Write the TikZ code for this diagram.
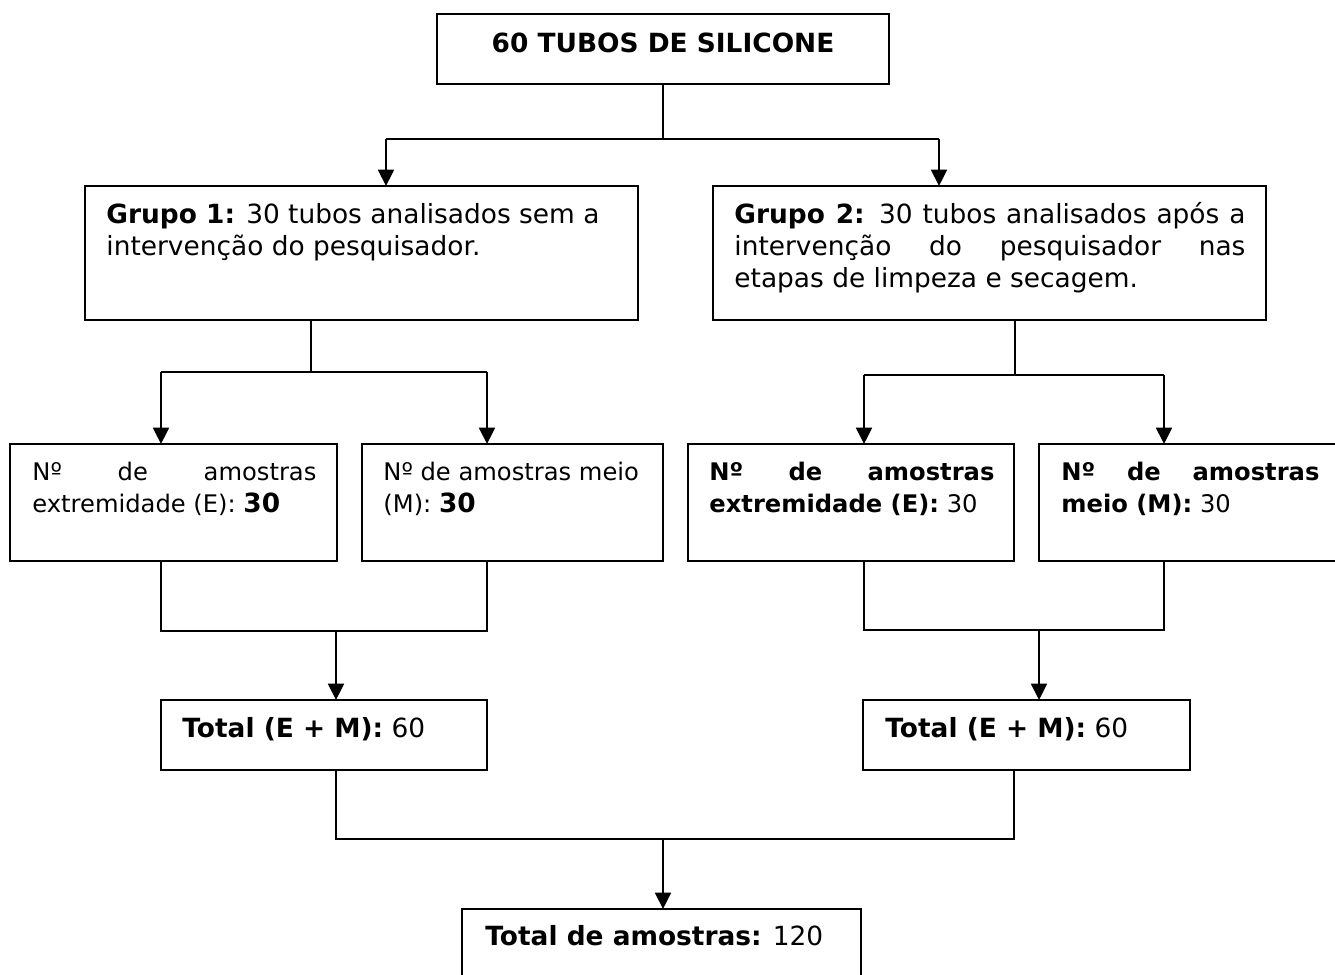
\documentclass[tikz,border=0pt]{standalone}
\usepackage{fontspec}
\setmainfont{DejaVu Sans}
\usetikzlibrary{arrows.meta}
\newdimen\pxu \pxu=0.4545pt
\newcommand{\pw}[1]{#1*0.4545pt}
\newcommand{\jl}[2]{\makebox[#1\pxu][s]{#2}}
\newcommand{\fbig}{\fontsize{12}{14.5}\selectfont}
\newcommand{\fsml}{\fontsize{11}{14.5}\selectfont}
\begin{document}
\begin{tikzpicture}[x=0.4545pt,y=-0.4545pt,
  box/.style={draw, line width=1pt, anchor=north west, inner sep=0pt, outer sep=0pt},
  txt/.style={anchor=base west, inner sep=0pt, font=\fbig},
  txts/.style={anchor=base west, inner sep=0pt, font=\fsml},
  conn/.style={line width=0.85pt},
  arr/.style={line width=0.85pt, -{Triangle[width=7.2pt,length=7.4pt]}}]
\useasboundingbox (0,0) rectangle (1335,974);
\fill[white] (0,0) rectangle (1335,974);
\begin{scope}
\clip (0,0) rectangle (1335,974);
% boxes
\node[box, minimum width=\pw{452}, minimum height=\pw{70}] (top) at (437,14) {};
\node[box, minimum width=\pw{553}, minimum height=\pw{134}] (g1) at (85,186) {};
\node[box, minimum width=\pw{553}, minimum height=\pw{134}] (g2) at (713,186) {};
\node[box, minimum width=\pw{327}, minimum height=\pw{117}] (ba) at (10,444) {};
\node[box, minimum width=\pw{301}, minimum height=\pw{117}] (bb) at (362,444) {};
\node[box, minimum width=\pw{326}, minimum height=\pw{117}] (bc) at (688,444) {};
\node[box, minimum width=\pw{301}, minimum height=\pw{117}] (bd) at (1039,444) {};
\node[box, minimum width=\pw{326}, minimum height=\pw{70}] (t1) at (161,700) {};
\node[box, minimum width=\pw{327}, minimum height=\pw{70}] (t2) at (863,700) {};
\node[box, minimum width=\pw{399}, minimum height=\pw{110}] (bot) at (462,909) {};
\end{scope}
% texts
\node[txt, anchor=base] (topt) at (663,52) {\textbf{60 TUBOS DE SILICONE}};
\node[txt] (g1a) at (106,223) {\textbf{Grupo 1:} 30 tubos analisados sem a};
\node[txt] (g1b) at (106,255) {intervenção do pesquisador.};
\node[txt] (g2a) at (734,223) {\jl{511}{\textbf{Grupo 2:} 30 tubos analisados após a}};
\node[txt] (g2b) at (734,255) {\jl{511}{intervenção do pesquisador nas}};
\node[txt] (g2c) at (734,287) {etapas de limpeza e secagem.};
\node[txts] (baa) at (32,480) {\jl{284}{Nº de amostras}};
\node[txts] (bab) at (32,512) {extremidade (E): {\fbig\textbf{30}}};
\node[txts] (bba) at (383,480) {Nº de amostras meio};
\node[txts] (bbb) at (383,512) {(M): {\fbig\textbf{30}}};
\node[txts] (bca) at (709,480) {\jl{285}{\textbf{Nº de amostras}}};
\node[txts] (bcb) at (709,512) {\textbf{extremidade (E):} 30};
\node[txts] (bda) at (1061,480) {\jl{258}{\textbf{Nº de amostras}}};
\node[txts] (bdb) at (1061,512) {\textbf{meio (M):} 30};
\node[txt] (t1t) at (182,737) {\textbf{Total (E + M):} 60};
\node[txt] (t2t) at (885,737) {\textbf{Total (E + M):} 60};
\node[txt] (bott) at (485,945) {\textbf{Total de amostras:} 120};
% junction coordinates
\coordinate (j0) at (663,139);
\coordinate (j0l) at (386,139);
\coordinate (j0r) at (939,139);
\coordinate (j1) at (311,372);
\coordinate (j1l) at (161,372);
\coordinate (j1r) at (487,372);
\coordinate (j2) at (1015,375);
\coordinate (j2l) at (864,375);
\coordinate (j2r) at (1164,375);
\coordinate (j3l) at (161,631);
\coordinate (j3r) at (487,631);
\coordinate (j3m) at (336,631);
\coordinate (j4l) at (864,630);
\coordinate (j4r) at (1164,630);
\coordinate (j4m) at (1039,630);
\coordinate (j5l) at (336,839);
\coordinate (j5r) at (1014,839);
\coordinate (j5m) at (663,839);
% connectors
\draw[conn] (top.south) -- (j0);
\draw[conn] (j0l) -- (j0r);
\draw[arr] (j0l) -- (j0l |- g1.north);
\draw[arr] (j0r) -- (j0r |- g2.north);
\draw[conn] (j1 |- g1.south) -- (j1);
\draw[conn] (j1l) -- (j1r);
\draw[arr] (j1l) -- (j1l |- ba.north);
\draw[arr] (j1r) -- (j1r |- bb.north);
\draw[conn] (j2 |- g2.south) -- (j2);
\draw[conn] (j2l) -- (j2r);
\draw[arr] (j2l) -- (j2l |- bc.north);
\draw[arr] (j2r) -- (j2r |- bd.north);
\draw[conn] (j3l |- ba.south) -- (j3l) -- (j3r) -- (j3r |- bb.south);
\draw[arr] (j3m) -- (j3m |- t1.north);
\draw[conn] (j4l |- bc.south) -- (j4l) -- (j4r) -- (j4r |- bd.south);
\draw[arr] (j4m) -- (j4m |- t2.north);
\draw[conn] (j5l |- t1.south) -- (j5l) -- (j5r) -- (j5r |- t2.south);
\draw[arr] (j5m) -- (j5m |- bot.north);
\end{tikzpicture}
\end{document}
